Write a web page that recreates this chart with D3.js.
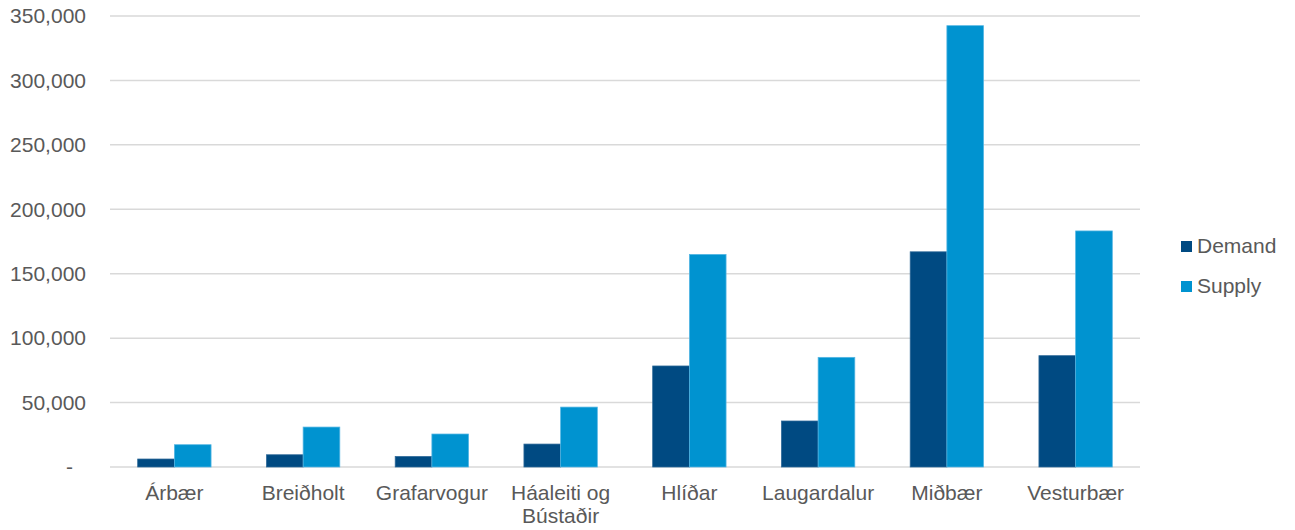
<!DOCTYPE html>
<html>
<head>
<meta charset="utf-8">
<script src="https://cdn.jsdelivr.net/npm/d3@7"></script>
<style>
  body { margin: 0; background: #fff; }
  text { font-family: "Liberation Sans", Arial, sans-serif; fill: #595959; }
</style>
</head>
<body>
<div id="chart"></div>
<script>
const categories = ["Árbær", "Breiðholt", "Grafarvogur", "Háaleiti og Bústaðir", "Hlíðar", "Laugardalur", "Miðbær", "Vesturbær"];
const seriesNames = ["Demand", "Supply"];
const demand = [6200, 9500, 8200, 17800, 78400, 35700, 167000, 86400];
const supply = [17300, 31000, 25600, 46500, 165000, 85100, 342500, 183200];
const yTicks = [0, 50000, 100000, 150000, 200000, 250000, 300000, 350000];
const colors = ["#004a82", "#0093d0"];
const strokes = ["#2f6a99", "#56b6e3"];

const width = 1295, height = 530;
const margin = {top: 16, right: 155, bottom: 63, left: 110};
const innerW = width - margin.left - margin.right;
const innerH = height - margin.top - margin.bottom;
const fontSize = 21;

const svg = d3.select("#chart")
    .append("svg")
    .attr("width", width)
    .attr("height", height);

const g = svg.append("g")
    .attr("transform", `translate(${margin.left},${margin.top})`);

const x0 = d3.scaleBand()
    .domain(categories)
    .range([0, innerW])
    .paddingInner(0.43)
    .paddingOuter(0.215);

const x1 = d3.scaleBand()
    .domain(seriesNames)
    .range([0, x0.bandwidth()]);

const y = d3.scaleLinear()
    .domain([0, 350000])
    .range([innerH, 0]);

// gridlines
g.selectAll(".grid")
    .data(yTicks)
    .enter()
    .append("line")
    .attr("x1", 0)
    .attr("x2", innerW)
    .attr("y1", d => y(d))
    .attr("y2", d => y(d))
    .attr("stroke", "#d9d9d9")
    .attr("stroke-width", 1.5);

// y axis labels
const yAxis = g.append("g")
    .call(d3.axisLeft(y).tickValues(yTicks).tickSize(0).tickPadding(24)
        .tickFormat(d => d === 0 ? "-" : d3.format(",")(d)));
yAxis.select(".domain").remove();
yAxis.selectAll("text")
    .attr("font-size", fontSize)
    .attr("font-family", "Liberation Sans, Arial, sans-serif")
    .attr("fill", "#595959")
    .attr("dx", d => d === 0 ? -13 : 0);

// bars
const rows = categories.map((c, i) => ({cat: c, values: [demand[i], supply[i]]}));

const groups = g.selectAll(".group")
    .data(rows)
    .enter()
    .append("g")
    .attr("transform", d => `translate(${x0(d.cat)},0)`);

groups.selectAll("rect")
    .data(d => d.values.map((v, j) => ({name: seriesNames[j], value: v, j: j})))
    .enter()
    .append("rect")
    .attr("x", d => x1(d.name))
    .attr("y", d => y(d.value))
    .attr("width", x1.bandwidth())
    .attr("height", d => innerH - y(d.value))
    .attr("fill", d => colors[d.j])
    .attr("stroke", d => strokes[d.j])
    .attr("stroke-width", 0.75);

// x labels
const xLabels = g.selectAll(".xlabel")
    .data(categories)
    .enter()
    .append("text")
    .attr("text-anchor", "middle")
    .attr("font-size", fontSize)
    .attr("x", d => x0(d) + x0.bandwidth() / 2)
    .attr("y", innerH + 33);

xLabels.each(function(d) {
    const el = d3.select(this);
    const lines = d === "Háaleiti og Bústaðir" ? ["Háaleiti og", "Bústaðir"] : [d];
    lines.forEach((t, i) => {
        el.append("tspan")
            .attr("x", x0(d) + x0.bandwidth() / 2)
            .attr("dy", i === 0 ? 0 : 23)
            .text(t);
    });
});

// legend
const legend = svg.append("g")
    .attr("transform", "translate(1181,241)");

seriesNames.forEach((name, i) => {
    const row = legend.append("g").attr("transform", `translate(0,${i * 40})`);
    row.append("rect")
        .attr("width", 11)
        .attr("height", 11)
        .attr("fill", colors[i]);
    row.append("text")
        .attr("x", 16)
        .attr("y", 12)
        .attr("font-size", fontSize)
        .text(name);
});
</script>
</body>
</html>
